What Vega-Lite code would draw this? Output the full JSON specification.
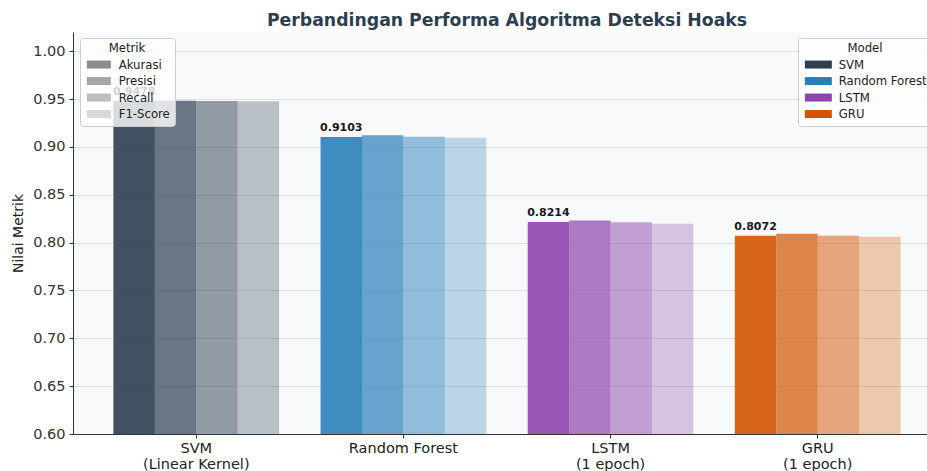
{
  "$schema": "https://vega.github.io/schema/vega-lite/v6.json",
  "width": 854,
  "height": 402,
  "autosize": {"type": "none"},
  "padding": {"left": 73, "top": 32, "right": 0, "bottom": 37},
  "background": "white",
  "config": {
    "font": "DejaVu Sans",
    "view": {"fill": "#f8f9fa", "stroke": null}
  },
  "title": {
    "text": "Perbandingan Performa Algoritma Deteksi Hoaks",
    "fontSize": 17.3,
    "fontWeight": "bold",
    "color": "#2c3e50",
    "anchor": "middle",
    "dx": 7,
    "offset": 3
  },
  "data": {
    "values": [
      {"model": "SVM", "metrik": "Akurasi", "nilai": 0.9478},
      {"model": "SVM", "metrik": "Presisi", "nilai": 0.9482},
      {"model": "SVM", "metrik": "Recall", "nilai": 0.9478},
      {"model": "SVM", "metrik": "F1-Score", "nilai": 0.9476},
      {"model": "Random Forest", "metrik": "Akurasi", "nilai": 0.9103},
      {"model": "Random Forest", "metrik": "Presisi", "nilai": 0.912},
      {"model": "Random Forest", "metrik": "Recall", "nilai": 0.9106},
      {"model": "Random Forest", "metrik": "F1-Score", "nilai": 0.9095},
      {"model": "LSTM", "metrik": "Akurasi", "nilai": 0.8214},
      {"model": "LSTM", "metrik": "Presisi", "nilai": 0.823},
      {"model": "LSTM", "metrik": "Recall", "nilai": 0.8212},
      {"model": "LSTM", "metrik": "F1-Score", "nilai": 0.8196},
      {"model": "GRU", "metrik": "Akurasi", "nilai": 0.8072},
      {"model": "GRU", "metrik": "Presisi", "nilai": 0.8093},
      {"model": "GRU", "metrik": "Recall", "nilai": 0.807},
      {"model": "GRU", "metrik": "F1-Score", "nilai": 0.806}
    ]
  },
  "encoding": {
    "x": {
      "field": "model",
      "type": "nominal",
      "sort": ["SVM", "Random Forest", "LSTM", "GRU"],
      "scale": {"range": [0, 868], "paddingInner": 0.2, "paddingOuter": 0.195},
      "axis": {
        "title": null,
        "labelAngle": 0,
        "labelFontSize": 14.5,
        "labelColor": "#222222",
        "labelPadding": 3,
        "labelLineHeight": 16,
        "tickSize": 4,
        "tickColor": "#333333",
        "domainColor": "#333333",
        "grid": false,
        "labelExpr": "datum.value == 'SVM' ? ['SVM', '(Linear Kernel)'] : datum.value == 'LSTM' ? ['LSTM', '(1 epoch)'] : datum.value == 'GRU' ? ['GRU', '(1 epoch)'] : datum.value"
      }
    },
    "xOffset": {
      "field": "metrik",
      "type": "nominal",
      "sort": ["Akurasi", "Presisi", "Recall", "F1-Score"],
      "scale": {"domain": ["Akurasi", "Presisi", "Recall", "F1-Score"], "paddingInner": 0, "paddingOuter": 0}
    },
    "y": {
      "field": "nilai",
      "type": "quantitative",
      "scale": {"domain": [0.6, 1.02], "zero": false, "nice": false},
      "axis": {
        "title": "Nilai Metrik",
        "titleFontSize": 14,
        "titleFontWeight": "normal",
        "titleColor": "#222222",
        "titlePadding": 7,
        "labelFontSize": 14.5,
        "labelColor": "#333333",
        "labelPadding": 4,
        "format": ".2f",
        "values": [0.6, 0.65, 0.7, 0.75, 0.8, 0.85, 0.9, 0.95, 1.0],
        "tickSize": 4,
        "tickColor": "#333333",
        "domainColor": "#333333",
        "gridColor": "#000000",
        "gridOpacity": 0.1
      }
    }
  },
  "layer": [
    {
      "mark": {"type": "bar", "clip": true},
      "encoding": {
        "color": {
          "field": "model",
          "type": "nominal",
          "scale": {
            "domain": ["SVM", "Random Forest", "LSTM", "GRU"],
            "range": ["#2c3e50", "#2980b9", "#8e44ad", "#d35400"]
          },
          "legend": {
            "title": "Model",
            "orient": "none",
            "legendX": 725,
            "legendY": 6,
            "symbolType": "M-1,-1H5.75V1H-1Z",
            "symbolSize": 64,
            "symbolStrokeWidth": 0,
            "symbolOpacity": 1,
            "labelFontSize": 11.7,
            "labelColor": "#222222",
            "labelOffset": 24,
            "titleFontSize": 11.7,
            "titleFontWeight": "normal",
            "titleColor": "#222222",
            "titleAnchor": "middle",
            "titlePadding": 4,
            "fillColor": "rgba(255,255,255,0.8)",
            "strokeColor": "#cccccc",
            "cornerRadius": 3,
            "padding": 5,
            "rowPadding": 3.5
          }
        },
        "opacity": {
          "field": "metrik",
          "type": "nominal",
          "scale": {
            "domain": ["Akurasi", "Presisi", "Recall", "F1-Score"],
            "range": [0.9, 0.3]
          },
          "legend": {
            "title": "Metrik",
            "orient": "none",
            "legendX": 7,
            "legendY": 6,
            "symbolType": "M-1,-1H5H5V1H-1Z",
            "symbolSize": 64,
            "symbolFillColor": "#808080",
            "symbolStrokeWidth": 0,
            "labelFontSize": 11.7,
            "labelColor": "#222222",
            "labelOffset": 22,
            "titleFontSize": 11.7,
            "titleFontWeight": "normal",
            "titleColor": "#222222",
            "titleAnchor": "middle",
            "titlePadding": 4,
            "fillColor": "rgba(255,255,255,0.8)",
            "strokeColor": "#cccccc",
            "cornerRadius": 3,
            "padding": 5,
            "rowPadding": 3.5
          }
        }
      }
    },
    {
      "transform": [{"filter": "datum.metrik === 'Akurasi'"}],
      "mark": {
        "type": "text",
        "fontSize": 11,
        "fontWeight": "bold",
        "color": "#1a1a1a",
        "baseline": "alphabetic",
        "dy": -6
      },
      "encoding": {
        "text": {"field": "nilai", "type": "quantitative", "format": ".4f"}
      }
    }
  ]
}
